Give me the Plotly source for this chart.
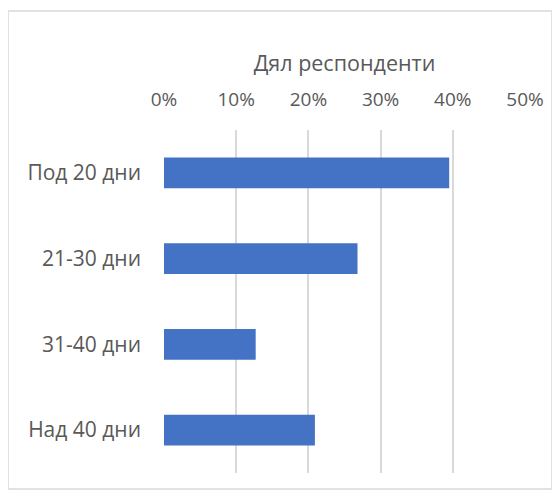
import plotly.graph_objects as go

categories = ["Под 20 дни", "21-30 дни", "31-40 дни", "Над 40 дни"]
shares = [0.395, 0.268, 0.127, 0.209]
tick_values = [0, 0.1, 0.2, 0.3, 0.4, 0.5]
tick_labels = ["0%", "10%", "20%", "30%", "40%", "50%"]

text_color = "#595959"
grid_color = "#D9D9D9"

fig = go.Figure(
    go.Bar(
        x=shares,
        y=categories,
        orientation="h",
        marker=dict(color="#4472C4", line=dict(width=0)),
        hoverinfo="x+y",
    )
)

# page body adds an 8px offset, so the plot area sits at 156..517 x 122..465 in figure px
fig.update_layout(
    width=560,
    height=497,
    margin=dict(l=156, r=43, t=122, b=32),
    paper_bgcolor="white",
    plot_bgcolor="white",
    bargap=0.64,
    showlegend=False,
    font=dict(family="Open Sans, Noto Sans, sans-serif", size=19, color=text_color),
    xaxis=dict(
        side="top",
        range=[0, 0.5],
        tickvals=tick_values,
        ticktext=tick_labels,
        showgrid=True,
        gridcolor=grid_color,
        gridwidth=1.8,
        zeroline=False,
        showline=False,
        ticks="",
        ticklabelstandoff=19,
        automargin=False,
        title=dict(text="Дял респонденти", font=dict(size=21.5, color=text_color), standoff=8),
    ),
    yaxis=dict(
        autorange="reversed",
        showgrid=False,
        zeroline=False,
        showline=False,
        ticks="",
        tickfont=dict(size=21),
        ticklabelstandoff=22,
        automargin=False,
    ),
    shapes=[
        dict(
            type="rect",
            xref="paper",
            yref="paper",
            x0=(0 - 156) / 361,
            x1=(544 - 156) / 361,
            y0=(465 - 481) / 343,
            y1=(465 - 3) / 343,
            line=dict(color=grid_color, width=1.5),
            fillcolor="rgba(0,0,0,0)",
            layer="below",
        )
    ],
)

fig.write_html("out.html")
